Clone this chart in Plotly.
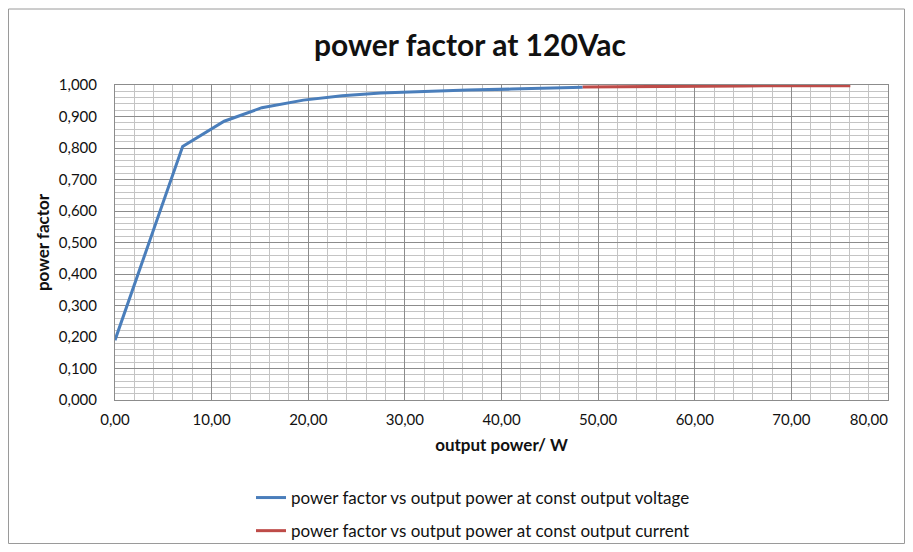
import plotly.graph_objects as go

# Data
cv_power = [0.0, 7.0, 11.3, 15.2, 19.5, 23.5, 27.5, 32.0, 36.5, 41.0, 45.0, 48.4]
cv_pf = [0.19, 0.805, 0.885, 0.928, 0.952, 0.966, 0.975, 0.980, 0.984, 0.987, 0.990, 0.993]
cc_power = [48.4, 55.0, 60.0, 65.0, 70.0, 76.1]
cc_pf = [0.994, 0.996, 0.997, 0.997, 0.998, 0.998]

x_ticks = [0, 10, 20, 30, 40, 50, 60, 70, 80]
x_tick_labels = ["0,00", "10,00", "20,00", "30,00", "40,00", "50,00", "60,00", "70,00",
                 "80,00" + "\u00a0" * 10]
y_ticks = [0.0, 0.1, 0.2, 0.3, 0.4, 0.5, 0.6, 0.7, 0.8, 0.9, 1.0]

FONT = "Lato"

fig = go.Figure()
fig.add_trace(go.Scatter(
    x=cv_power, y=cv_pf, mode="lines",
    name="power factor vs output power at const output voltage",
    line=dict(color="#4a7ebb", width=3), legendgroup="a"))
fig.add_trace(go.Scatter(
    x=cc_power, y=cc_pf, mode="lines",
    name="power factor vs output power at const output current",
    line=dict(color="#be4b48", width=3), legendgroup="b"))

# The page body has an 8px margin, so the figure is drawn 8px in from the window edge.
OFF = 8
W, H = 913 - 2 * OFF, 552 - 2 * OFF
L, R, T, B = 115 - OFF, 888 - OFF, 85 - OFF, 400 - OFF

def px(xp):
    return (xp - L) / (R - L)

def py(yp):
    return (B - yp) / (B - T)

fig.update_layout(
    width=W, height=H,
    margin=dict(l=L, r=W - R, t=T, b=H - B, autoexpand=False),
    separators=", ",
    paper_bgcolor="white", plot_bgcolor="white",
    font=dict(family=FONT, color="#111", size=15),
    title=dict(text="<b>power factor at 120Vac</b>", x=(470 - OFF) / W, xanchor="center",
               xref="container", yref="container",
               y=1 - (45 - OFF) / H, yanchor="middle",
               font=dict(family=FONT, size=30, color="#111")),
    xaxis=dict(range=[0, 80], tickvals=x_ticks, ticktext=x_tick_labels,
               ticklabeloverflow="allow",
               showgrid=True, gridcolor="#8c8c8c", gridwidth=1,
               minor=dict(dtick=2, showgrid=True, gridcolor="#c4c4c4", gridwidth=1),
               showline=True, linecolor="#8c8c8c", mirror=True, zeroline=False,
               ticks="outside", ticklen=6, tickcolor="rgba(0,0,0,0)",
               tickfont=dict(family=FONT, size=15, color="#111"),
               title=dict(text="<b>output power/ W</b>", standoff=12,
                          font=dict(family=FONT, size=17, color="#111"))),
    yaxis=dict(range=[0, 1], tickvals=y_ticks, tickformat=".3f",
               showgrid=True, gridcolor="#8c8c8c", gridwidth=1,
               minor=dict(dtick=0.02, showgrid=True, gridcolor="#c4c4c4", gridwidth=1),
               showline=True, linecolor="#8c8c8c", mirror=True, zeroline=False,
               ticks="outside", ticklen=14, tickcolor="rgba(0,0,0,0)",
               tickfont=dict(family=FONT, size=15, color="#111"),
               title=dict(text="<b>power factor</b>", standoff=4,
                          font=dict(family=FONT, size=17, color="#111"))),
    legend=dict(x=px(251 - OFF), xanchor="left", y=py(480 - OFF), yanchor="top",
                traceorder="grouped", tracegroupgap=8,
                itemwidth=30,
                font=dict(family=FONT, size=17, color="#111"),
                bgcolor="rgba(0,0,0,0)"),
    shapes=[dict(type="rect", xref="paper", yref="paper",
                 x0=px(0.5), x1=px(W - 0.5), y0=py(H - 0.5), y1=py(1),
                 line=dict(color="#9a9a9a", width=1), layer="below")],
)

fig.write_html("out.html")
